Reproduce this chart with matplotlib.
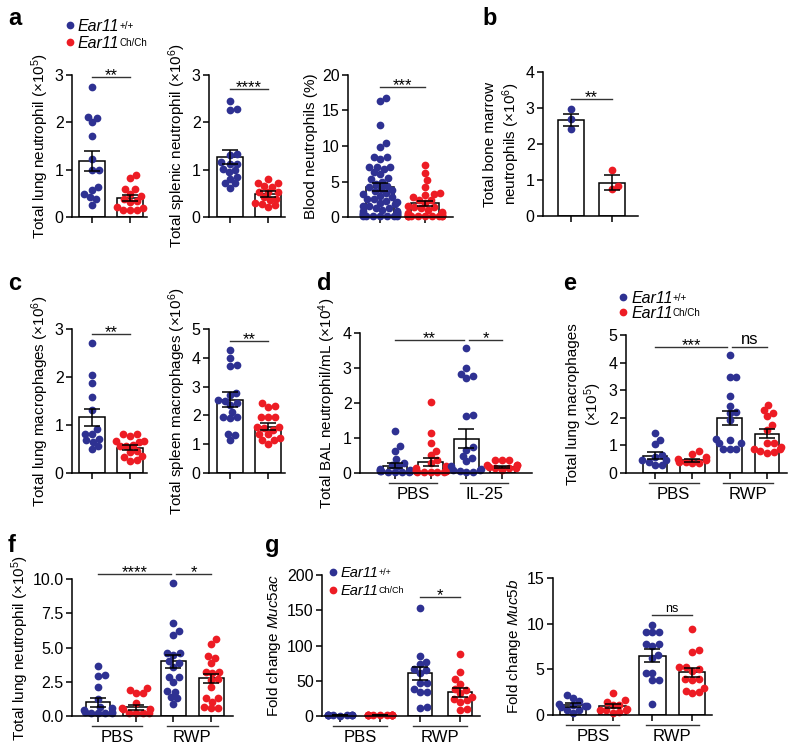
import numpy as np
import matplotlib.pyplot as plt
from matplotlib import transforms

plt.rcParams['font.family'] = ['Liberation Sans', 'DejaVu Sans']
plt.rcParams['mathtext.fontset'] = 'custom'
plt.rcParams['mathtext.rm'] = 'Liberation Sans'
plt.rcParams['mathtext.it'] = 'Liberation Sans:italic'
plt.rcParams['mathtext.bf'] = 'Liberation Sans:bold'

BLUE = '#2e3192'
RED = '#ed1c24'
W, H = 800, 750

# --- a: lung / splenic / blood neutrophils
a1_wt = [2.74, 2.10, 2.12, 2.00, 1.71, 1.22, 1.00, 1.00, 0.58, 0.63, 0.42, 0.49, 0.26, 0.37]
a1_ko = [0.88, 0.82, 0.59, 0.59, 0.49, 0.44, 0.33, 0.31, 0.37, 0.15, 0.14, 0.22, 0.19, 0.14]
a1_mean = [1.19, 0.40]
a1_sem = [0.21, 0.07]

a2_wt = [2.46, 2.26, 2.29, 1.33, 1.31, 1.16, 1.13, 1.13, 1.02, 0.99, 0.95, 0.85, 0.81, 0.71, 0.72, 0.62]
a2_ko = [0.71, 0.71, 0.81, 0.65, 0.64, 0.53, 0.53, 0.53, 0.39, 0.42, 0.35, 0.30, 0.25, 0.28, 0.21]
a2_mean = [1.26, 0.49]
a2_sem = [0.15, 0.06]

a3_wt = [16.7, 16.3, 12.9, 10.4, 9.9, 8.5, 8.4, 8.2, 7.1, 7.0, 7.0, 6.8, 6.3, 6.0, 5.5, 5.3,
         5.0, 4.6, 4.4, 4.2, 4.0, 3.8, 3.6, 3.4, 3.2, 3.0, 2.8, 2.6, 2.5, 2.3, 2.1, 2.0, 1.8,
         1.6, 1.5, 1.3, 1.2, 1.0, 0.9, 0.8, 0.7, 0.6, 0.5, 0.4, 0.4, 0.3, 0.3, 0.2, 0.2, 0.2,
         0.1, 0.1, 0.1, 0.1]
a3_ko = [7.3, 6.15, 5.2, 4.27, 3.33, 3.1, 3.3, 2.8, 2.4, 2.4, 1.92, 1.6, 1.46, 1.4, 1.2, 0.99,
         0.75, 0.6, 0.5, 0.4, 0.3, 0.28, 0.2, 0.2, 0.2, 0.2, 0.1, 0.1, 0.1, 0.1, 0.1, 0.1]
a3_mean = [4.24, 1.92]
a3_sem = [0.6, 0.4]

# --- b: bone marrow neutrophils
b_wt = [2.98, 2.70, 2.43]
b_ko = [1.29, 0.74, 0.83]
b_mean = [2.67, 0.93]
b_sem = [0.17, 0.2]

# --- c: macrophages
c1_wt = [2.71, 2.04, 1.87, 1.58, 1.31, 0.82, 0.81, 0.91, 0.68, 0.65, 0.70, 0.56, 0.51]
c1_ko = [0.81, 0.81, 0.77, 0.67, 0.67, 0.65, 0.58, 0.56, 0.56, 0.46, 0.44, 0.33, 0.35, 0.27, 0.25]
c1_mean = [1.16, 0.53]
c1_sem = [0.18, 0.05]

c2_wt = [4.26, 3.99, 3.72, 3.76, 2.79, 2.71, 2.53, 2.51, 2.36, 2.42, 2.13, 1.95, 1.93, 1.90, 1.37, 1.31, 1.14]
c2_ko = [2.33, 2.30, 2.42, 1.95, 1.95, 1.95, 1.55, 1.58, 1.60, 1.35, 1.35, 1.49, 1.14, 1.14, 1.20, 1.02]
c2_mean = [2.55, 1.61]
c2_sem = [0.25, 0.12]

# --- d: BAL neutrophils, PBS / IL-25
d_pbs_wt = [1.21, 0.78, 0.64, 0.40, 0.30, 0.24, 0.19, 0.11, 0.09, 0.05, 0.05, 0.05, 0.09, 0.03, 0.02, 0.04, 0.06, 0.02]
d_pbs_ko = [2.04, 1.14, 0.87, 0.64, 0.52, 0.38, 0.28, 0.19, 0.14, 0.09, 0.08, 0.05, 0.04, 0.06, 0.03, 0.02, 0.05, 0.03, 0.04]
d_il_wt = [3.57, 3.00, 2.82, 2.72, 2.77, 1.66, 1.64, 0.73, 0.66, 0.49, 0.43, 0.33, 0.19, 0.11, 0.09, 0.08, 0.05, 0.04, 0.03]
d_il_ko = [0.37, 0.37, 0.37, 0.23, 0.23, 0.23, 0.16, 0.13, 0.13, 0.13, 0.10]
d_mean = [0.21, 0.31, 0.98, 0.18]
d_sem = [0.08, 0.12, 0.27, 0.03]

# --- e: lung macrophages, PBS / RWP
e_pbs_wt = [1.46, 1.19, 1.04, 0.64, 0.58, 0.46, 0.40, 0.46, 0.28, 0.28]
e_pbs_ko = [0.79, 0.70, 0.58, 0.52, 0.46, 0.40, 0.36, 0.40, 0.38]
e_rwp_wt = [4.27, 3.49, 3.49, 2.80, 2.43, 2.18, 2.22, 1.91, 1.21, 1.09, 1.07, 1.25, 0.88, 0.88, 0.88]
e_rwp_ko = [2.46, 2.28, 2.19, 2.06, 1.73, 1.55, 1.07, 1.07, 0.94, 0.88, 0.88, 0.76, 0.73, 0.80]
e_mean = [0.63, 0.46, 2.00, 1.43]
e_sem = [0.13, 0.05, 0.26, 0.15]

# --- f: lung neutrophils, PBS / RWP
f_pbs_wt = [3.66, 2.93, 3.00, 2.15, 1.22, 0.68, 0.56, 0.44, 0.32, 0.32, 0.20, 0.20, 0.20, 0.20]
f_pbs_ko = [2.02, 1.66, 1.66, 1.90, 0.93, 0.56, 0.49, 0.49, 0.24, 0.24, 0.20, 0.20]
f_rwp_wt = [9.70, 6.78, 6.17, 5.90, 4.63, 4.59, 4.46, 3.90, 3.98, 3.61, 2.83, 2.88, 2.51, 1.85, 1.78, 1.41, 1.29, 0.88]
f_rwp_ko = [5.60, 5.24, 4.39, 4.27, 3.85, 3.24, 3.12, 3.24, 2.63, 2.68, 2.10, 1.29, 1.29, 1.05, 0.56, 0.63, 0.56]
f_mean = [1.00, 0.63, 3.98, 2.76]
f_sem = [0.34, 0.2, 0.46, 0.33]

# --- g: Muc5ac / Muc5b fold change
g1_pbs_wt = [1.2, 1.0, 0.9, 1.1, 0.8, 1.3, 1.0, 0.9, 1.1, 0.7]
g1_pbs_ko = [1.5, 1.2, 0.9, 1.8, 1.1, 1.3, 0.8, 1.6, 1.0, 1.4, 2.0, 1.2]
g1_rwp_wt = [152.7, 77, 73.8, 85, 65, 61.5, 66, 47, 47, 34.5, 34.5, 39, 11, 13]
g1_rwp_ko = [88, 63, 52, 45.4, 39, 37, 32, 27, 22.7, 20.3, 23.6, 9.5, 8.5]
g1_mean = [1.0, 1.3, 60.5, 33.6]
g1_sem = [0.1, 0.1, 9.0, 6.0]

g2_pbs_wt = [1.86, 1.50, 2.15, 0.95, 0.84, 0.95, 0.58, 0.51, 0.22, 1.2, 1.1]
g2_pbs_ko = [2.41, 1.42, 1.61, 1.06, 1.13, 0.58, 0.58, 0.66, 0.22, 0.3, 0.5]
g2_rwp_wt = [9.8, 9.1, 9.05, 9.05, 7.8, 7.6, 7.8, 6.24, 6.6, 4.6, 4.6, 3.87, 3.8, 1.24]
g2_rwp_ko = [9.45, 7.15, 6.9, 5.22, 5.22, 4.85, 5.04, 3.87, 3.94, 3.94, 2.96, 2.6, 2.41, 2.48]
g2_mean = [1.09, 0.95, 6.5, 4.7]
g2_sem = [0.17, 0.22, 0.7, 0.5]

group_names = ['PBS', 'RWP']
genotypes = ['+/+', 'Ch/Ch']


def swarm(ax, xc, vals, d=6.8, maxw=14):
    # simple beeswarm in pixel space
    ys = ax.transData.transform(np.column_stack([np.zeros(len(vals)), vals]))[:, 1]
    unit = ax.transData.transform((1, 0))[0] - ax.transData.transform((0, 0))[0]
    placed = []
    offs = np.zeros(len(vals))
    for i in np.argsort(ys, kind='stable'):
        y = ys[i]
        near = [(px, py) for px, py in placed if abs(py - y) < d]
        cands = [0.0]
        for px, py in near:
            dx = np.sqrt(d * d - (py - y) ** 2)
            cands += [px + dx, px - dx]
        cands.sort(key=abs)
        best = cands[-1]
        for c in cands:
            if all((c - px) ** 2 + (y - py) ** 2 >= d * d - 1e-6 for px, py in near):
                best = c
                break
        best = max(-maxw, min(maxw, best))
        offs[i] = best
        placed.append((best, y))
    return xc + offs / unit


def panel(box, c0, sp, ylim, yticks, ylabel, groups, means, sems, width=0.68, maxw=14,
          ticklabels=None, labelpad=3):
    l, r, t, b = box
    ax = fig.add_axes([l / W, 1 - b / H, (r - l) / W, (b - t) / H])
    ax.set_xlim((l - c0) / sp, (r - c0) / sp)
    ax.set_ylim(ylim)
    x = np.arange(len(groups))
    ax.bar(x, means, width=width, color='white', edgecolor='black', lw=1.1, zorder=1)
    for i, vals in enumerate(groups):
        xs = swarm(ax, i, np.asarray(vals, float), maxw=maxw)
        ax.scatter(xs, vals, s=31, color=BLUE if i % 2 == 0 else RED, lw=0, zorder=2, clip_on=False)
    ax.errorbar(x, means, yerr=sems, fmt='none', ecolor='black', elinewidth=1.1,
                capsize=6, capthick=1.1, zorder=3)
    for s in ['top', 'right']:
        ax.spines[s].set_visible(False)
    for s in ['left', 'bottom']:
        ax.spines[s].set_linewidth(1.1)
    ax.set_xticks(x)
    ax.set_xticklabels([])
    ax.set_yticks(yticks)
    if ticklabels is not None:
        ax.set_yticklabels(ticklabels)
    ax.tick_params(axis='both', direction='out', length=4, width=1.1, labelsize=11.5, pad=2)
    ax.set_ylabel(ylabel, fontsize=11, labelpad=labelpad)
    return ax


def sig(ax, x0, x1, y, txt, fs=12):
    ax.plot([x0, x1], [y, y], color='#333333', lw=1.0, clip_on=False)
    off = -2.4 if '*' in txt else 2.2
    ax.annotate(txt, xy=((x0 + x1) / 2, y), xytext=(0, off), textcoords='offset points',
                ha='center', va='baseline', fontsize=fs, annotation_clip=False)


def group_lines(ax, box, names, half=0.67):
    hpx = box[3] - box[2]
    tr = transforms.blended_transform_factory(ax.transData, ax.transAxes)
    for k, name in enumerate(names):
        xm = 2 * k + 0.5
        ax.plot([xm - half, xm + half], [-10 / hpx, -10 / hpx], color='#333333', lw=1.0,
                transform=tr, clip_on=False)
        ax.text(xm, -14 / hpx, name, transform=tr, ha='center', va='top', fontsize=12)


fig = plt.figure(figsize=(W / 100, H / 100), dpi=100)

# a
box = (72, 147, 75, 217)
ax = panel(box, 92, 38, (0, 3), [0, 1, 2, 3], 'Total lung neutrophil (×10$^5$)',
           [a1_wt, a1_ko], a1_mean, a1_sem, width=0.71)
sig(ax, 0, 1, 2.96, '**')

box = (209, 285, 75, 217)
ax = panel(box, 230, 38, (0, 3), [0, 1, 2, 3], 'Total splenic neutrophil (×10$^6$)',
           [a2_wt, a2_ko], a2_mean, a2_sem, width=0.71)
sig(ax, 0, 1, 2.70, '****')

box = (348, 453, 75, 217)
ax = panel(box, 380, 45, (0, 20), [0, 5, 10, 15, 20], 'Blood neutrophils (%)',
           [a3_wt, a3_ko], a3_mean, a3_sem, width=0.62, maxw=17)
sig(ax, 0, 1, 18.3, '***')

# b
box = (543, 638, 72, 216)
ax = panel(box, 571, 41, (0, 4), [0, 1, 2, 3, 4], 'Total bone marrow\nneutrophils (×10$^6$)',
           [b_wt, b_ko], b_mean, b_sem, width=0.63)
sig(ax, 0, 1, 3.25, '**')

# c
box = (72, 147, 329, 473)
ax = panel(box, 92, 38, (0, 3), [0, 1, 2, 3], 'Total lung macrophages (×10$^6$)',
           [c1_wt, c1_ko], c1_mean, c1_sem, width=0.71)
sig(ax, 0, 1, 2.9, '**')

box = (209, 285, 329, 473)
ax = panel(box, 230, 38, (0, 5), [0, 1, 2, 3, 4, 5], 'Total spleen macrophages (×10$^6$)',
           [c2_wt, c2_ko], c2_mean, c2_sem, width=0.71)
sig(ax, 0, 1, 4.6, '**')

# d
box = (360, 532, 333, 473)
ax = panel(box, 395, 35.7, (0, 4), [0, 1, 2, 3, 4], 'Total BAL neutrophil/mL (×10$^4$)',
           [d_pbs_wt, d_pbs_ko, d_il_wt, d_il_ko], d_mean, d_sem, width=0.7, maxw=15)
sig(ax, 0, 1.93, 3.8, '**')
sig(ax, 2.07, 3, 3.8, '*')
group_lines(ax, box, ['PBS', 'IL-25'])

# e
box = (626, 787, 335, 473)
ax = panel(box, 655, 37.3, (0, 5), [0, 1, 2, 3, 4, 5], 'Total lung macrophages\n(×10$^5$)',
           [e_pbs_wt, e_pbs_ko, e_rwp_wt, e_rwp_ko], e_mean, e_sem, width=0.66)
sig(ax, 0, 1.93, 4.57, '***')
sig(ax, 2.07, 3, 4.57, 'ns')
group_lines(ax, box, group_names)

# f
box = (72, 233, 579, 716)
ax = panel(box, 98, 37.7, (0, 10), [0, 2.5, 5, 7.5, 10], 'Total lung neutrophil (×10$^5$)',
           [f_pbs_wt, f_pbs_ko, f_rwp_wt, f_rwp_ko], f_mean, f_sem, width=0.66,
           ticklabels=['0.0', '2.5', '5.0', '7.5', '10.0'], labelpad=1)
sig(ax, 0, 1.93, 10.36, '****')
sig(ax, 2.07, 3, 10.36, '*')
group_lines(ax, box, group_names)

# g
box = (322, 480, 575, 716)
ax = panel(box, 340, 40, (0, 200), [0, 50, 100, 150, 200], 'Fold change $\\mathit{Muc5ac}$',
           [g1_pbs_wt, g1_pbs_ko, g1_rwp_wt, g1_rwp_ko], g1_mean, g1_sem, width=0.62, maxw=12)
sig(ax, 2, 3, 169, '*')
group_lines(ax, box, group_names)

box = (553, 712, 578, 715)
ax = panel(box, 573, 39.7, (0, 15), [0, 5, 10, 15], 'Fold change $\\mathit{Muc5b}$',
           [g2_pbs_wt, g2_pbs_ko, g2_rwp_wt, g2_rwp_ko], g2_mean, g2_sem, width=0.67)
sig(ax, 2, 3, 10.9, 'ns', fs=9)
group_lines(ax, box, group_names)

# overlay for panel letters and legends (pixel coordinates)
ov = fig.add_axes([0, 0, 1, 1])
ov.set_xlim(0, W)
ov.set_ylim(H, 0)
ov.axis('off')
for letter, lx, ly in [('a', 8, 25), ('b', 482, 25), ('c', 8, 290), ('d', 317, 290),
                       ('e', 563, 290), ('f', 8, 552), ('g', 265, 552)]:
    ov.text(lx, ly, letter, fontsize=17, fontweight='bold', va='baseline', ha='left')

for mx, my, dy, fs in [(70, 25, 17, 11.5), (623, 297, 15, 11.5), (333, 572, 18, 10.5)]:
    for k, (col, sup) in enumerate(zip([BLUE, RED], genotypes)):
        ov.scatter([mx], [my + k * dy], s=31, color=col, lw=0)
        t = ov.text(mx + 8, my + k * dy + fs * 0.5, 'Ear11', fontsize=fs, fontstyle='italic',
                    va='baseline', ha='left')
        ov.annotate(sup, xy=(1, 1), xycoords=t, xytext=(0, -1.5), textcoords='offset points',
                    ha='left', va='top', fontsize=fs * 0.62)

fig.savefig('out.png', dpi=100)
